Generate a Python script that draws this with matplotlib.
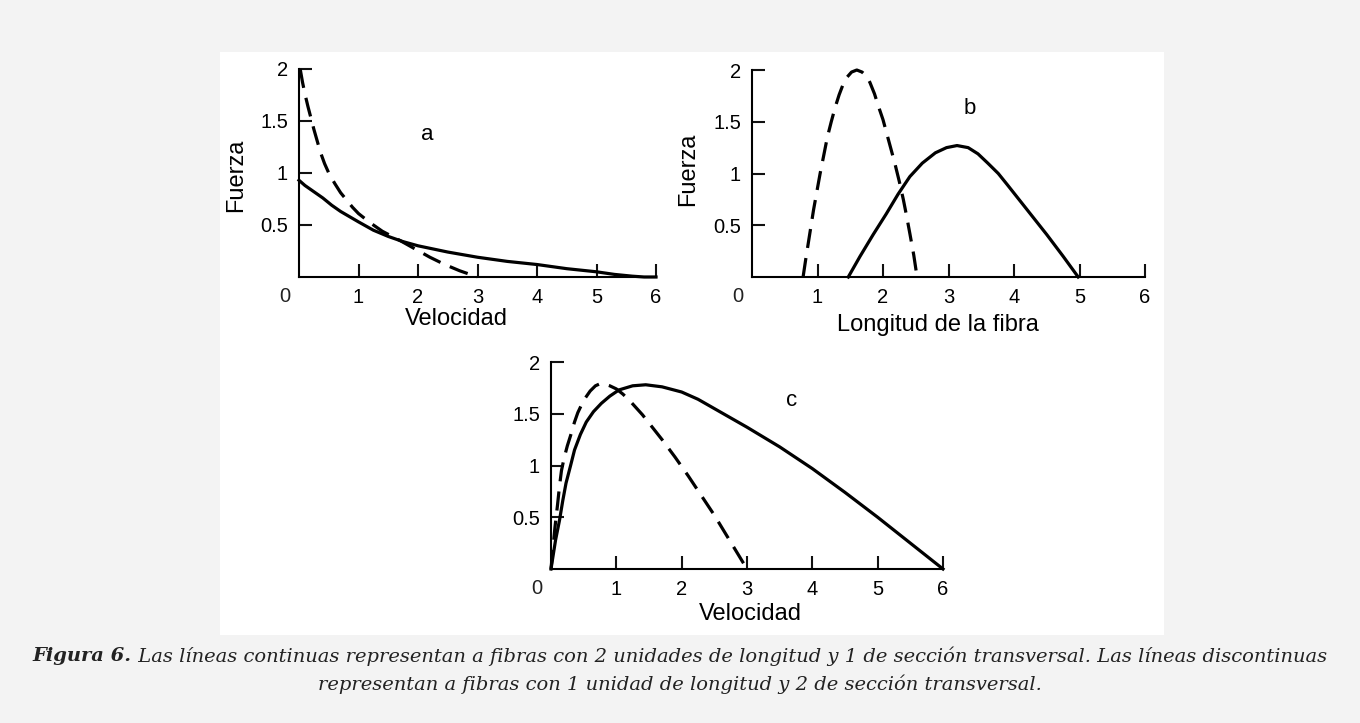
import matplotlib
matplotlib.use('Agg')
import matplotlib.pyplot as plt
from matplotlib.patches import Rectangle

W, H = 1360, 723

# Panel a: fuerza frente a velocidad
vel_a_cont = [0, 0.1, 0.2, 0.3, 0.4, 0.55, 0.7, 0.85, 1.0, 1.25, 1.5, 1.75, 2.0, 2.25, 2.5,
              2.75, 3.0, 3.5, 4.0, 4.5, 5.0, 5.3, 5.6, 5.8, 6.0]
fza_a_cont = [0.93, 0.88, 0.84, 0.80, 0.76, 0.69, 0.63, 0.58, 0.53, 0.45, 0.39, 0.34, 0.30, 0.27, 0.24,
              0.215, 0.19, 0.15, 0.12, 0.08, 0.05, 0.025, 0.008, 0.0, 0.0]
vel_a_disc = [0.02, 0.06, 0.1, 0.15, 0.2, 0.25, 0.3, 0.36, 0.43, 0.5, 0.6, 0.7, 0.8, 0.9, 1.0,
              1.2, 1.4, 1.7, 1.95, 2.2, 2.45, 2.7, 3.0]
fza_a_disc = [2.0, 1.87, 1.76, 1.64, 1.53, 1.42, 1.32, 1.20, 1.09, 1.0, 0.90, 0.81, 0.74, 0.67, 0.61,
              0.52, 0.44, 0.35, 0.27, 0.19, 0.12, 0.06, 0.0]

# Panel b: fuerza frente a longitud de la fibra
lon_b_cont = [1.47, 1.65, 1.85, 2.05, 2.23, 2.41, 2.6, 2.8, 2.97, 3.13, 3.3, 3.45, 3.6, 3.76,
              3.9, 4.0, 4.25, 4.5, 4.75, 4.98]
fza_b_cont = [0.0, 0.2, 0.41, 0.61, 0.80, 0.97, 1.10, 1.20, 1.25, 1.27, 1.25, 1.19, 1.10, 1.0,
              0.89, 0.81, 0.61, 0.41, 0.20, 0.0]
lon_b_disc = [0.78, 0.82, 0.86, 0.9, 0.94, 1.0, 1.04, 1.1, 1.15, 1.21, 1.27, 1.33, 1.39, 1.45,
              1.52, 1.6, 1.68, 1.75, 1.8, 1.87, 1.93, 2.0, 2.06, 2.12, 2.18, 2.25, 2.31, 2.36,
              2.41, 2.47, 2.52]
fza_b_disc = [0.0, 0.17, 0.33, 0.49, 0.65, 0.86, 1.0, 1.19, 1.35, 1.50, 1.64, 1.76, 1.86, 1.93,
              1.98, 2.0, 1.98, 1.94, 1.88, 1.77, 1.65, 1.52, 1.38, 1.24, 1.1, 0.92, 0.75, 0.59,
              0.42, 0.21, 0.0]

# Panel c: fuerza frente a velocidad
vel_c_cont = [0, 0.03, 0.07, 0.13, 0.18, 0.23, 0.3, 0.36, 0.45, 0.54, 0.65, 0.77, 0.9, 1.04,
              1.25, 1.45, 1.7, 2.0, 2.25, 2.5, 2.75, 3.0, 3.5, 4.0, 4.5, 5.0, 5.5, 6.0]
fza_c_cont = [0, 0.12, 0.28, 0.47, 0.66, 0.83, 1.0, 1.15, 1.30, 1.42, 1.52, 1.60, 1.67, 1.73,
              1.77, 1.78, 1.76, 1.71, 1.64, 1.55, 1.46, 1.37, 1.18, 0.97, 0.74, 0.50, 0.25, 0.0]
vel_c_disc = [0, 0.03, 0.06, 0.1, 0.13, 0.16, 0.2, 0.25, 0.3, 0.36, 0.41, 0.5, 0.6, 0.68, 0.75,
              0.83, 0.9, 1.0, 1.1, 1.2, 1.3, 1.4, 1.5, 1.7, 1.9, 2.1, 2.3, 2.5, 2.75, 3.0]
fza_c_disc = [0, 0.2, 0.40, 0.62, 0.80, 0.95, 1.07, 1.19, 1.29, 1.42, 1.51, 1.63, 1.72, 1.77, 1.79,
              1.785, 1.77, 1.74, 1.69, 1.63, 1.56, 1.49, 1.41, 1.25, 1.08, 0.90, 0.71, 0.52, 0.26, 0.0]

xticks = [1, 2, 3, 4, 5, 6]
yticks = [0.5, 1, 1.5, 2]
ytick_labels = ['0.5', '1', '1.5', '2']

caption_bold = 'Figura 6.'
caption_1 = (' Las líneas continuas representan a fibras con 2 unidades de longitud y 1 '
             'de sección transversal. Las líneas discontinuas')
caption_2 = 'representan a fibras con 1 unidad de longitud y 2 de sección transversal.'

plt.rcParams['font.family'] = ['Liberation Sans', 'DejaVu Sans']

fig = plt.figure(figsize=(W / 100, H / 100), dpi=100, facecolor='#f3f3f3')
fig.patches.append(Rectangle((220 / W, 1 - 635 / H), (1164 - 220) / W, (635 - 52) / H,
                             transform=fig.transFigure, facecolor='white', edgecolor='none',
                             zorder=-1))


def panel(x0, x1, ytop, ybot):
    ax = fig.add_axes([x0 / W, 1 - ybot / H, (x1 - x0) / W, (ybot - ytop) / H])
    ax.set_facecolor('none')
    ax.set_xlim(0, 6)
    ax.set_ylim(0, 2)
    for s in ['top', 'right']:
        ax.spines[s].set_visible(False)
    for s in ['left', 'bottom']:
        ax.spines[s].set_linewidth(1.5)
    ax.set_xticks(xticks)
    ax.set_yticks(yticks)
    ax.set_yticklabels(ytick_labels)
    ax.tick_params(direction='in', length=9.5, width=1.5, pad=8, labelsize=14.5, color='#111111')
    ax.annotate('0', xy=(0, 0), xytext=(-14, -19), textcoords='offset pixels',
                ha='center', va='center', fontsize=14.5, color='#222222')
    return ax


def curvas(ax, xc, yc, xd, yd):
    ax.plot(xc, yc, color='black', lw=2.3, clip_on=False, solid_joinstyle='round')
    ax.plot(xd, yd, color='black', lw=2.3, clip_on=False, dashes=(6, 3.2),
            dash_joinstyle='round')


ax_a = panel(299, 656, 69, 277)
curvas(ax_a, vel_a_cont, fza_a_cont, vel_a_disc, fza_a_disc)
ax_a.text(2.15, 1.37, 'a', fontsize=16, ha='center', va='center')
ax_a.set_xlabel('Velocidad', fontsize=17)
ax_a.xaxis.set_label_coords(0.44, -0.15)
ax_a.set_ylabel('Fuerza', fontsize=17)
ax_a.yaxis.set_label_coords(-0.145, 0.49)

ax_b = panel(752, 1145, 70, 277)
curvas(ax_b, lon_b_cont, fza_b_cont, lon_b_disc, fza_b_disc)
ax_b.text(3.33, 1.63, 'b', fontsize=16, ha='center', va='center')
ax_b.set_xlabel('Longitud de la fibra', fontsize=17)
ax_b.xaxis.set_label_coords(0.473, -0.18)
ax_b.set_ylabel('Fuerza', fontsize=17)
ax_b.yaxis.set_label_coords(-0.135, 0.52)

ax_c = panel(551, 943, 362, 569)
curvas(ax_c, vel_c_cont, fza_c_cont, vel_c_disc, fza_c_disc)
ax_c.text(3.69, 1.63, 'c', fontsize=16, ha='center', va='center')
ax_c.set_xlabel('Velocidad', fontsize=17)
ax_c.xaxis.set_label_coords(0.508, -0.165)

# Pie de figura: primera línea en dos trozos (negrita + normal), centrada
cap_kw = dict(family='DejaVu Serif', style='italic', fontsize=14.0, color='#222222', va='center')
r = fig.canvas.get_renderer()
t1 = fig.text(0, 1 - 656 / H, caption_bold, weight='bold', **cap_kw)
t2 = fig.text(0, 1 - 656 / H, caption_1, **cap_kw)
w1 = t1.get_window_extent(r).width
w2 = t2.get_window_extent(r).width
x_start = (W - w1 - w2) / 2
t1.set_x(x_start / W)
t2.set_x((x_start + w1) / W)
fig.text(0.5, 1 - 684 / H, caption_2, ha='center', **cap_kw)

fig.savefig('out.png', dpi=100, facecolor=fig.get_facecolor())
